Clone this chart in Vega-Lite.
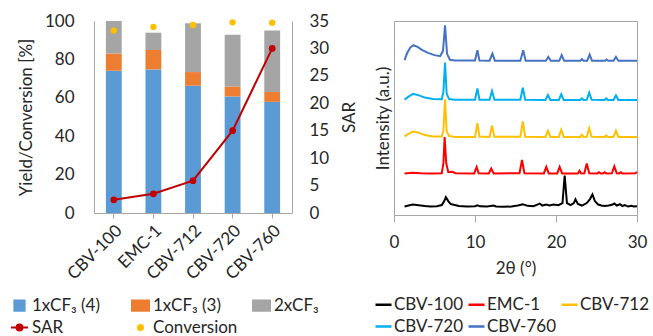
{
  "$schema": "https://vega.github.io/schema/vega-lite/v6.json",
  "padding": {"left": 10, "top": 12, "right": 5, "bottom": 0},
  "config": {
    "font": "Lato",
    "view": {"stroke": null},
    "axis": {"grid": false, "labelFontSize": 17, "titleFontSize": 17, "titleFontWeight": "normal", "labelColor": "#262626", "titleColor": "#262626", "domainColor": "#a6a6a6", "tickColor": "#a6a6a6"},
    "legend": {"labelFontSize": 17, "labelColor": "#262626"}
  },
  "spacing": 15,
  "resolve": {"scale": {"color": "independent"}, "legend": {"color": "independent"}},
  "hconcat": [
    {
      "width": 198,
      "height": 192,
      "data": {"values": [
        {"cat": "CBV-100", "kind": "yield", "series": "1xCF₃ (4)", "level": 1, "value": 74.1},
        {"cat": "CBV-100", "kind": "yield", "series": "1xCF₃ (3)", "level": 2, "value": 9.0},
        {"cat": "CBV-100", "kind": "yield", "series": "2xCF₃", "level": 3, "value": 16.9},
        {"cat": "EMC-1", "kind": "yield", "series": "1xCF₃ (4)", "level": 1, "value": 74.8},
        {"cat": "EMC-1", "kind": "yield", "series": "1xCF₃ (3)", "level": 2, "value": 10.1},
        {"cat": "EMC-1", "kind": "yield", "series": "2xCF₃", "level": 3, "value": 9.0},
        {"cat": "CBV-712", "kind": "yield", "series": "1xCF₃ (4)", "level": 1, "value": 66.3},
        {"cat": "CBV-712", "kind": "yield", "series": "1xCF₃ (3)", "level": 2, "value": 7.1},
        {"cat": "CBV-712", "kind": "yield", "series": "2xCF₃", "level": 3, "value": 25.4},
        {"cat": "CBV-720", "kind": "yield", "series": "1xCF₃ (4)", "level": 1, "value": 60.7},
        {"cat": "CBV-720", "kind": "yield", "series": "1xCF₃ (3)", "level": 2, "value": 5.2},
        {"cat": "CBV-720", "kind": "yield", "series": "2xCF₃", "level": 3, "value": 27.0},
        {"cat": "CBV-760", "kind": "yield", "series": "1xCF₃ (4)", "level": 1, "value": 57.9},
        {"cat": "CBV-760", "kind": "yield", "series": "1xCF₃ (3)", "level": 2, "value": 5.1},
        {"cat": "CBV-760", "kind": "yield", "series": "2xCF₃", "level": 3, "value": 32.0},
        {"cat": "CBV-100", "kind": "sar", "series": "SAR", "value": 2.4},
        {"cat": "EMC-1", "kind": "sar", "series": "SAR", "value": 3.5},
        {"cat": "CBV-712", "kind": "sar", "series": "SAR", "value": 5.9},
        {"cat": "CBV-720", "kind": "sar", "series": "SAR", "value": 15.0},
        {"cat": "CBV-760", "kind": "sar", "series": "SAR", "value": 30.0},
        {"cat": "CBV-100", "kind": "conv", "series": "Conversion", "value": 95.0},
        {"cat": "EMC-1", "kind": "conv", "series": "Conversion", "value": 96.9},
        {"cat": "CBV-712", "kind": "conv", "series": "Conversion", "value": 97.9},
        {"cat": "CBV-720", "kind": "conv", "series": "Conversion", "value": 99.3},
        {"cat": "CBV-760", "kind": "conv", "series": "Conversion", "value": 99.1}
      ]},
      "layer": [
        {
          "transform": [{"filter": "datum.kind === 'yield'"}],
          "mark": {"type": "bar"},
          "encoding": {
            "x": {"field": "cat", "type": "nominal", "sort": ["CBV-100", "EMC-1", "CBV-712", "CBV-720", "CBV-760"], "scale": {"paddingInner": 0.6, "paddingOuter": 0.3},
              "axis": {"title": null, "labelAngle": -45, "tickSize": 5, "labelPadding": 4, "labelOverlap": false}},
            "y": {"field": "value", "type": "quantitative", "stack": "zero", "scale": {"domain": [0, 100], "nice": false},
              "axis": {"title": "Yield/Conversion [%]", "values": [0, 20, 40, 60, 80, 100], "ticks": false, "labelPadding": 20, "titlePadding": 9}},
            "color": {"field": "series", "type": "nominal",
              "scale": {"domain": ["1xCF₃ (4)", "1xCF₃ (3)", "2xCF₃", "SAR", "Conversion"], "range": ["#5B9BD5", "#ED7D31", "#A5A5A5", "#C00000", "#FFC000"]},
              "legend": {
                "title": null, "orient": "none", "legendX": -84, "legendY": 275, "direction": "horizontal", "columns": 3,
                "gridAlign": "all", "columnPadding": 11, "rowPadding": 3, "symbolSize": 289, "labelOffset": 3,
                "encode": {"symbols": {"update": {
                  "shape": {"signal": "datum.value === 'SAR' ? 'M-1,0H1M-0.35,0A0.35,0.35 0 1,0 0.35,0A0.35,0.35 0 1,0 -0.35,0Z' : datum.value === 'Conversion' ? 'M-0.3,0A0.3,0.3 0 1,0 0.3,0A0.3,0.3 0 1,0 -0.3,0Z' : datum.value === '1xCF₃ (4)' ? 'M-0.6,-0.6H0.6V0.6H-0.6Z' : 'M-1,-0.6H1V0.6H-1Z'"},
                  "fill": {"signal": "datum.value === '1xCF₃ (4)' ? '#5B9BD5' : datum.value === '1xCF₃ (3)' ? '#ED7D31' : datum.value === '2xCF₃' ? '#A5A5A5' : datum.value === 'SAR' ? '#C00000' : '#FFC000'"},
                  "stroke": {"signal": "datum.value === 'SAR' ? '#C00000' : 'transparent'"},
                  "strokeWidth": {"value": 2},
                  "opacity": {"value": 1},
                  "fillOpacity": {"value": 1}
                }}}
              }},
            "order": {"field": "level", "type": "quantitative"}
          }
        },
        {
          "transform": [{"filter": "datum.kind === 'sar'"}],
          "mark": {"type": "line", "strokeWidth": 2, "point": {"filled": true, "size": 45}},
          "encoding": {
            "x": {"field": "cat", "type": "nominal", "sort": ["CBV-100", "EMC-1", "CBV-712", "CBV-720", "CBV-760"]},
            "y": {"field": "value", "type": "quantitative", "scale": {"domain": [0, 35], "nice": false},
              "axis": {"orient": "right", "title": "SAR", "titleAngle": 270, "titleBaseline": "top", "values": [0, 5, 10, 15, 20, 25, 30, 35], "ticks": false, "labelPadding": 17, "titlePadding": 13}},
            "color": {"field": "series", "type": "nominal"}
          }
        },
        {
          "transform": [{"filter": "datum.kind === 'conv'"}],
          "mark": {"type": "point", "filled": true, "size": 40, "opacity": 1},
          "encoding": {
            "x": {"field": "cat", "type": "nominal", "sort": ["CBV-100", "EMC-1", "CBV-712", "CBV-720", "CBV-760"]},
            "y": {"field": "value", "type": "quantitative", "scale": {"domain": [0, 100], "nice": false}, "axis": null},
            "color": {"field": "series", "type": "nominal"}
          }
        }
      ],
      "resolve": {"scale": {"y": "independent"}}
    },
    {
      "width": 243,
      "height": 194,
      "view": {"stroke": "#a6a6a6"},
      "data": {"values": [
        {"s": "CBV-100", "t": 1.3, "I": 8.5}, {"s": "CBV-100", "t": 1.8, "I": 9.5}, {"s": "CBV-100", "t": 2.3, "I": 10.5}, {"s": "CBV-100", "t": 2.8, "I": 10}, {"s": "CBV-100", "t": 3.3, "I": 9.5}, {"s": "CBV-100", "t": 3.8, "I": 9}, {"s": "CBV-100", "t": 4.5, "I": 8.5}, {"s": "CBV-100", "t": 5.3, "I": 8.8}, {"s": "CBV-100", "t": 5.9, "I": 10}, {"s": "CBV-100", "t": 6.2, "I": 14}, {"s": "CBV-100", "t": 6.4, "I": 18}, {"s": "CBV-100", "t": 6.7, "I": 14}, {"s": "CBV-100", "t": 7.0, "I": 11}, {"s": "CBV-100", "t": 7.5, "I": 10}, {"s": "CBV-100", "t": 8.0, "I": 9}, {"s": "CBV-100", "t": 9.0, "I": 8.5}, {"s": "CBV-100", "t": 10.0, "I": 8.8}, {"s": "CBV-100", "t": 10.3, "I": 9.8}, {"s": "CBV-100", "t": 10.6, "I": 8.7}, {"s": "CBV-100", "t": 11.5, "I": 8.5}, {"s": "CBV-100", "t": 12.3, "I": 9.5}, {"s": "CBV-100", "t": 12.6, "I": 8.5}, {"s": "CBV-100", "t": 13.5, "I": 8.2}, {"s": "CBV-100", "t": 14.5, "I": 8.5}, {"s": "CBV-100", "t": 15.3, "I": 9.5}, {"s": "CBV-100", "t": 15.9, "I": 10.8}, {"s": "CBV-100", "t": 16.5, "I": 9.2}, {"s": "CBV-100", "t": 17.2, "I": 8.8}, {"s": "CBV-100", "t": 17.7, "I": 10.5}, {"s": "CBV-100", "t": 18.0, "I": 11.5}, {"s": "CBV-100", "t": 18.3, "I": 9.5}, {"s": "CBV-100", "t": 18.8, "I": 10.5}, {"s": "CBV-100", "t": 19.2, "I": 9.5}, {"s": "CBV-100", "t": 19.7, "I": 10.5}, {"s": "CBV-100", "t": 20.3, "I": 9.8}, {"s": "CBV-100", "t": 20.8, "I": 12}, {"s": "CBV-100", "t": 21.07, "I": 39.7}, {"s": "CBV-100", "t": 21.35, "I": 12}, {"s": "CBV-100", "t": 21.8, "I": 10}, {"s": "CBV-100", "t": 22.2, "I": 12}, {"s": "CBV-100", "t": 22.4, "I": 15.7}, {"s": "CBV-100", "t": 22.7, "I": 11}, {"s": "CBV-100", "t": 23.2, "I": 9.5}, {"s": "CBV-100", "t": 23.8, "I": 12}, {"s": "CBV-100", "t": 24.2, "I": 16}, {"s": "CBV-100", "t": 24.5, "I": 20.7}, {"s": "CBV-100", "t": 24.8, "I": 14}, {"s": "CBV-100", "t": 25.2, "I": 10.5}, {"s": "CBV-100", "t": 25.6, "I": 9.5}, {"s": "CBV-100", "t": 26.0, "I": 9}, {"s": "CBV-100", "t": 26.5, "I": 9.5}, {"s": "CBV-100", "t": 27.0, "I": 10.5}, {"s": "CBV-100", "t": 27.2, "I": 11.5}, {"s": "CBV-100", "t": 27.5, "I": 9.5}, {"s": "CBV-100", "t": 27.9, "I": 10.8}, {"s": "CBV-100", "t": 28.2, "I": 9}, {"s": "CBV-100", "t": 28.5, "I": 10}, {"s": "CBV-100", "t": 28.9, "I": 8.5}, {"s": "CBV-100", "t": 29.3, "I": 9.2}, {"s": "CBV-100", "t": 29.6, "I": 8.5}, {"s": "CBV-100", "t": 30, "I": 8.8},
        {"s": "EMC-1", "t": 1.3, "I": 41.7}, {"s": "EMC-1", "t": 2.3, "I": 42.5}, {"s": "EMC-1", "t": 3.3, "I": 42}, {"s": "EMC-1", "t": 4.5, "I": 41.7}, {"s": "EMC-1", "t": 5.9, "I": 42}, {"s": "EMC-1", "t": 6.1, "I": 52}, {"s": "EMC-1", "t": 6.25, "I": 78.3}, {"s": "EMC-1", "t": 6.45, "I": 52}, {"s": "EMC-1", "t": 6.7, "I": 43}, {"s": "EMC-1", "t": 7.2, "I": 43.5}, {"s": "EMC-1", "t": 7.6, "I": 42}, {"s": "EMC-1", "t": 9.9, "I": 41.8}, {"s": "EMC-1", "t": 10.2, "I": 48.3}, {"s": "EMC-1", "t": 10.45, "I": 42}, {"s": "EMC-1", "t": 11.7, "I": 41.8}, {"s": "EMC-1", "t": 12.0, "I": 46.7}, {"s": "EMC-1", "t": 12.3, "I": 41.8}, {"s": "EMC-1", "t": 15.5, "I": 42}, {"s": "EMC-1", "t": 15.8, "I": 55.3}, {"s": "EMC-1", "t": 16.1, "I": 42}, {"s": "EMC-1", "t": 18.5, "I": 41.8}, {"s": "EMC-1", "t": 18.8, "I": 48.3}, {"s": "EMC-1", "t": 19.1, "I": 41.8}, {"s": "EMC-1", "t": 20.15, "I": 41.8}, {"s": "EMC-1", "t": 20.45, "I": 48.3}, {"s": "EMC-1", "t": 20.75, "I": 41.8}, {"s": "EMC-1", "t": 22.7, "I": 41.8}, {"s": "EMC-1", "t": 22.9, "I": 44.5}, {"s": "EMC-1", "t": 23.1, "I": 41.8}, {"s": "EMC-1", "t": 23.5, "I": 42}, {"s": "EMC-1", "t": 23.8, "I": 51.7}, {"s": "EMC-1", "t": 24.1, "I": 42}, {"s": "EMC-1", "t": 25.1, "I": 41.8}, {"s": "EMC-1", "t": 25.3, "I": 43}, {"s": "EMC-1", "t": 25.5, "I": 41.8}, {"s": "EMC-1", "t": 25.8, "I": 41.8}, {"s": "EMC-1", "t": 26.0, "I": 43}, {"s": "EMC-1", "t": 26.2, "I": 41.8}, {"s": "EMC-1", "t": 26.9, "I": 42}, {"s": "EMC-1", "t": 27.2, "I": 49}, {"s": "EMC-1", "t": 27.5, "I": 42}, {"s": "EMC-1", "t": 27.8, "I": 41.8}, {"s": "EMC-1", "t": 28.0, "I": 43}, {"s": "EMC-1", "t": 28.2, "I": 41.8}, {"s": "EMC-1", "t": 29.8, "I": 42}, {"s": "EMC-1", "t": 30, "I": 43},
        {"s": "CBV-712", "t": 1.3, "I": 79}, {"s": "CBV-712", "t": 1.73, "I": 81.3}, {"s": "CBV-712", "t": 2.35, "I": 84}, {"s": "CBV-712", "t": 2.96, "I": 83}, {"s": "CBV-712", "t": 3.8, "I": 80.3}, {"s": "CBV-712", "t": 4.8, "I": 79}, {"s": "CBV-712", "t": 5.9, "I": 78.8}, {"s": "CBV-712", "t": 6.1, "I": 85}, {"s": "CBV-712", "t": 6.3, "I": 116.3}, {"s": "CBV-712", "t": 6.5, "I": 84}, {"s": "CBV-712", "t": 6.8, "I": 79.5}, {"s": "CBV-712", "t": 7.5, "I": 78.5}, {"s": "CBV-712", "t": 10.0, "I": 78.5}, {"s": "CBV-712", "t": 10.3, "I": 92.3}, {"s": "CBV-712", "t": 10.55, "I": 78.8}, {"s": "CBV-712", "t": 11.8, "I": 78.5}, {"s": "CBV-712", "t": 12.1, "I": 89.7}, {"s": "CBV-712", "t": 12.4, "I": 78.6}, {"s": "CBV-712", "t": 15.6, "I": 78.6}, {"s": "CBV-712", "t": 15.9, "I": 94}, {"s": "CBV-712", "t": 16.2, "I": 78.6}, {"s": "CBV-712", "t": 18.7, "I": 78.5}, {"s": "CBV-712", "t": 19.0, "I": 84.7}, {"s": "CBV-712", "t": 19.3, "I": 78.5}, {"s": "CBV-712", "t": 20.35, "I": 78.5}, {"s": "CBV-712", "t": 20.65, "I": 85.7}, {"s": "CBV-712", "t": 20.95, "I": 78.5}, {"s": "CBV-712", "t": 23.0, "I": 78.5}, {"s": "CBV-712", "t": 23.2, "I": 80.7}, {"s": "CBV-712", "t": 23.4, "I": 78.5}, {"s": "CBV-712", "t": 23.8, "I": 78.6}, {"s": "CBV-712", "t": 24.1, "I": 87.3}, {"s": "CBV-712", "t": 24.4, "I": 78.6}, {"s": "CBV-712", "t": 26.0, "I": 78.4}, {"s": "CBV-712", "t": 26.2, "I": 80}, {"s": "CBV-712", "t": 26.4, "I": 78.4}, {"s": "CBV-712", "t": 27.1, "I": 78.5}, {"s": "CBV-712", "t": 27.4, "I": 84.7}, {"s": "CBV-712", "t": 27.7, "I": 78.5}, {"s": "CBV-712", "t": 30, "I": 78.3},
        {"s": "CBV-720", "t": 1.3, "I": 116}, {"s": "CBV-720", "t": 1.8, "I": 119}, {"s": "CBV-720", "t": 2.35, "I": 121.7}, {"s": "CBV-720", "t": 3.0, "I": 120.5}, {"s": "CBV-720", "t": 3.8, "I": 118}, {"s": "CBV-720", "t": 4.8, "I": 116.5}, {"s": "CBV-720", "t": 5.9, "I": 116.3}, {"s": "CBV-720", "t": 6.1, "I": 124}, {"s": "CBV-720", "t": 6.3, "I": 153.3}, {"s": "CBV-720", "t": 6.5, "I": 122}, {"s": "CBV-720", "t": 6.8, "I": 116.5}, {"s": "CBV-720", "t": 7.5, "I": 115.8}, {"s": "CBV-720", "t": 10.0, "I": 115.8}, {"s": "CBV-720", "t": 10.3, "I": 127.3}, {"s": "CBV-720", "t": 10.55, "I": 115.9}, {"s": "CBV-720", "t": 11.8, "I": 115.8}, {"s": "CBV-720", "t": 12.1, "I": 124.7}, {"s": "CBV-720", "t": 12.4, "I": 115.8}, {"s": "CBV-720", "t": 15.6, "I": 115.8}, {"s": "CBV-720", "t": 15.9, "I": 128}, {"s": "CBV-720", "t": 16.2, "I": 115.8}, {"s": "CBV-720", "t": 18.7, "I": 115.7}, {"s": "CBV-720", "t": 19.0, "I": 120.7}, {"s": "CBV-720", "t": 19.3, "I": 115.7}, {"s": "CBV-720", "t": 20.35, "I": 115.7}, {"s": "CBV-720", "t": 20.65, "I": 121.3}, {"s": "CBV-720", "t": 20.95, "I": 115.7}, {"s": "CBV-720", "t": 23.0, "I": 115.7}, {"s": "CBV-720", "t": 23.2, "I": 117.3}, {"s": "CBV-720", "t": 23.4, "I": 115.7}, {"s": "CBV-720", "t": 23.8, "I": 115.8}, {"s": "CBV-720", "t": 24.1, "I": 123}, {"s": "CBV-720", "t": 24.4, "I": 115.8}, {"s": "CBV-720", "t": 26.0, "I": 115.7}, {"s": "CBV-720", "t": 26.2, "I": 117.3}, {"s": "CBV-720", "t": 26.4, "I": 115.7}, {"s": "CBV-720", "t": 27.1, "I": 115.7}, {"s": "CBV-720", "t": 27.4, "I": 120.3}, {"s": "CBV-720", "t": 27.7, "I": 115.7}, {"s": "CBV-720", "t": 30, "I": 115.7},
        {"s": "CBV-760", "t": 1.3, "I": 155.7}, {"s": "CBV-760", "t": 1.6, "I": 162.3}, {"s": "CBV-760", "t": 2.0, "I": 168.3}, {"s": "CBV-760", "t": 2.4, "I": 170.7}, {"s": "CBV-760", "t": 2.9, "I": 169}, {"s": "CBV-760", "t": 3.5, "I": 165.7}, {"s": "CBV-760", "t": 4.2, "I": 163}, {"s": "CBV-760", "t": 5.0, "I": 160.7}, {"s": "CBV-760", "t": 5.7, "I": 159.7}, {"s": "CBV-760", "t": 6.05, "I": 165}, {"s": "CBV-760", "t": 6.3, "I": 190.7}, {"s": "CBV-760", "t": 6.55, "I": 162}, {"s": "CBV-760", "t": 6.9, "I": 156}, {"s": "CBV-760", "t": 7.5, "I": 155.3}, {"s": "CBV-760", "t": 10.0, "I": 155.2}, {"s": "CBV-760", "t": 10.3, "I": 165.7}, {"s": "CBV-760", "t": 10.55, "I": 155.2}, {"s": "CBV-760", "t": 11.8, "I": 155.1}, {"s": "CBV-760", "t": 12.15, "I": 162.3}, {"s": "CBV-760", "t": 12.45, "I": 155.1}, {"s": "CBV-760", "t": 15.6, "I": 155.1}, {"s": "CBV-760", "t": 15.95, "I": 165.7}, {"s": "CBV-760", "t": 16.25, "I": 155.1}, {"s": "CBV-760", "t": 18.75, "I": 155}, {"s": "CBV-760", "t": 19.05, "I": 159}, {"s": "CBV-760", "t": 19.35, "I": 155}, {"s": "CBV-760", "t": 20.4, "I": 155}, {"s": "CBV-760", "t": 20.7, "I": 160.7}, {"s": "CBV-760", "t": 21.0, "I": 155}, {"s": "CBV-760", "t": 23.0, "I": 155}, {"s": "CBV-760", "t": 23.2, "I": 156.7}, {"s": "CBV-760", "t": 23.4, "I": 155}, {"s": "CBV-760", "t": 23.85, "I": 155}, {"s": "CBV-760", "t": 24.15, "I": 161.3}, {"s": "CBV-760", "t": 24.45, "I": 155}, {"s": "CBV-760", "t": 26.05, "I": 155}, {"s": "CBV-760", "t": 26.25, "I": 156.3}, {"s": "CBV-760", "t": 26.45, "I": 155}, {"s": "CBV-760", "t": 27.1, "I": 155}, {"s": "CBV-760", "t": 27.4, "I": 159}, {"s": "CBV-760", "t": 27.7, "I": 155}, {"s": "CBV-760", "t": 30, "I": 155}
      ]},
      "mark": {"type": "line", "strokeWidth": 2},
      "encoding": {
        "x": {"field": "t", "type": "quantitative", "scale": {"domain": [0, 30], "nice": false},
          "axis": {"title": "2θ (°)", "values": [0, 10, 20, 30], "domain": false, "tickSize": 7, "labelPadding": 12, "labelFlush": false, "labelOverlap": false, "titlePadding": 10}},
        "y": {"field": "I", "type": "quantitative", "scale": {"domain": [0, 195], "nice": false, "zero": false},
          "axis": {"title": "Intensity (a.u.)", "labels": false, "ticks": false, "domain": false, "titlePadding": 2}},
        "color": {"field": "s", "type": "nominal",
          "scale": {"domain": ["CBV-100", "EMC-1", "CBV-712", "CBV-720", "CBV-760"], "range": ["#000000", "#FF0000", "#FFC000", "#00B0F0", "#4472C4"]},
          "legend": {"title": null, "orient": "none", "legendX": -20, "legendY": 274, "direction": "horizontal", "columns": 3,
            "gridAlign": "each", "columnPadding": 0, "rowPadding": 4, "symbolType": "stroke", "symbolSize": 256, "symbolStrokeWidth": 2.5, "labelOffset": 1}}
      }
    }
  ]
}
